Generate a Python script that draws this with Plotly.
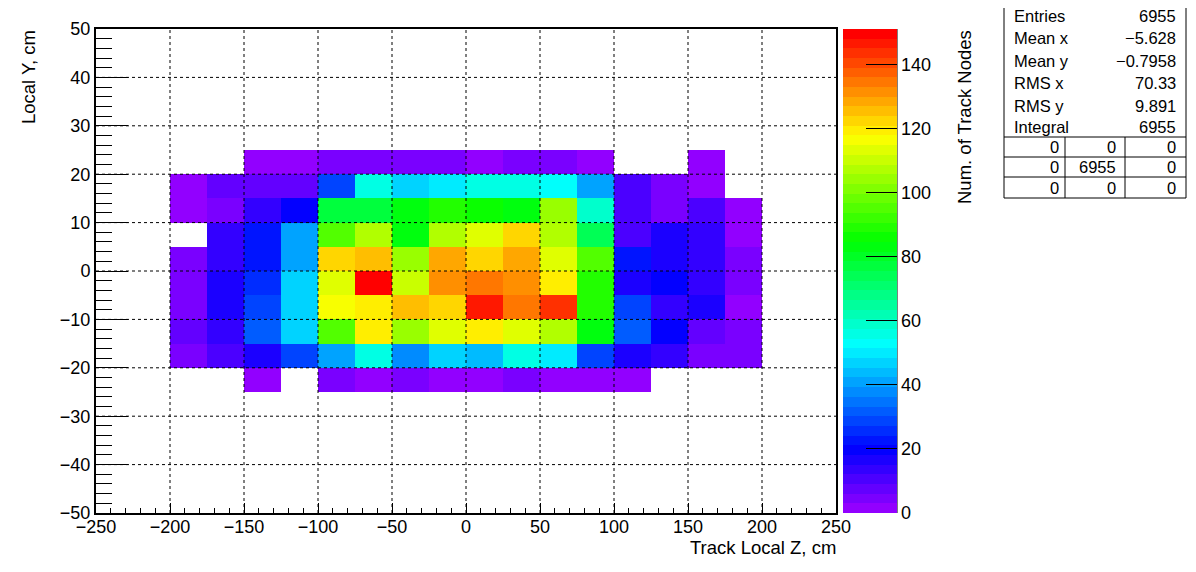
import colorsys
import plotly.graph_objects as go

# ---------------- data ----------------
x_centers = [-187.5, -162.5, -137.5, -112.5, -87.5, -62.5, -37.5, -12.5,
             12.5, 37.5, 62.5, 87.5, 112.5, 137.5, 162.5, 187.5]
y_centers = [-22.5, -17.5, -12.5, -7.5, -2.5, 2.5, 7.5, 12.5, 17.5, 22.5]

N = None
# rows from bottom (y=-25..-20) to top (y=20..25)
row_m22 = [N, N, 1, N, 4, 1, 4, 1, 1, 4, 1, 1, 1, N, N, N]
row_m17 = [4, 10, 16, 28, 41, 56, 38, 47, 44, 56, 50, 28, 16, 13, 4, 4]
row_m12 = [7, 13, 31, 47, 95, 119, 104, 113, 119, 113, 107, 83, 31, 19, 7, 4]
row_m7 = [4, 16, 28, 47, 116, 119, 125, 122, 146, 134, 143, 89, 28, 13, 16, 1]
row_m2 = [4, 16, 25, 47, 113, 151, 110, 131, 134, 131, 119, 89, 16, 19, 13, 4]
row_p2 = [4, 13, 22, 41, 122, 125, 104, 128, 122, 128, 113, 95, 22, 16, 13, 4]
row_p7 = [N, 13, 22, 41, 95, 107, 83, 107, 113, 122, 107, 74, 10, 16, 13, 1]
row_p12 = [1, 4, 13, 19, 77, 77, 83, 89, 86, 83, 104, 59, 10, 4, 10, 1]
row_p17 = [1, 7, 7, 7, 28, 56, 47, 50, 56, 56, 53, 41, 10, 4, 1, N]
row_p22 = [N, N, 1, 1, 4, 4, 4, 4, 1, 4, 4, 1, N, N, 1, N]
counts = [row_m22, row_m17, row_m12, row_m7, row_m2,
          row_p2, row_p7, row_p12, row_p17, row_p22]

z_max = 151
cbar_ticks = [0, 20, 40, 60, 80, 100, 120, 140]

stats_labels = ["Entries", "Mean x", "Mean y", "RMS x", "RMS y", "Integral"]
stats_values = ["6955", "\u22125.628", "\u22120.7958", "70.33", "9.891", "6955"]
overflow_table = [["0", "0", "0"], ["0", "6955", "0"], ["0", "0", "0"]]

# ---------------- ROOT palette 1 (50 rainbow colours) ----------------
ncol = 50
colorscale = []
for i in range(ncol):
    hue = 280.0 - (i + 1) * (280.0 / ncol)
    r, g, b = colorsys.hls_to_rgb(hue / 360.0, 0.5, 1.0)
    c = "rgb(%d,%d,%d)" % (round(r * 255), round(g * 255), round(b * 255))
    colorscale.append([i / ncol, c])
    colorscale.append([(i + 1) / ncol, c])

# page body adds an 8px offset; reference pixel positions below are page pixels
OFF = 8
W, H = 1196 - 2 * OFF, 572 - 2 * OFF
L, R, T, B = 96, 836, 29, 513  # plot frame in page pixels


def px(xp):
    return (xp - L) / (R - L)


def py(yp):
    return (B - yp) / (B - T)


FONT = "Liberation Sans, Arial, Helvetica, sans-serif"

fig = go.Figure()
fig.add_trace(go.Heatmap(
    x=x_centers, y=y_centers, z=counts,
    zmin=0, zmax=z_max, colorscale=colorscale,
    hoverongaps=False,
    colorbar=dict(
        x=px(843), xanchor="left", xpad=0, ypad=0,
        y=0.5, yanchor="middle", len=1, lenmode="fraction",
        thickness=54, thicknessmode="pixels",
        outlinewidth=0,
        tickmode="array", tickvals=cbar_ticks,
        ticks="inside", ticklen=31, tickwidth=1, tickcolor="black",
        tickfont=dict(family=FONT, size=18, color="black"),
    ),
))

shapes = []
# dotted grid drawn above the cells, like ROOT
for xv in range(-200, 201, 50):
    shapes.append(dict(type="line", xref="x", yref="paper", x0=xv, x1=xv, y0=0, y1=1,
                       line=dict(color="black", width=1, dash="dot"), layer="above"))
for yv in range(-40, 41, 10):
    shapes.append(dict(type="line", xref="paper", yref="y", x0=0, x1=1, y0=yv, y1=yv,
                       line=dict(color="black", width=1, dash="dot"), layer="above"))
# colour bar axis line
shapes.append(dict(type="line", xref="paper", yref="paper", x0=px(897), x1=px(897), y0=0, y1=1,
                   line=dict(color="black", width=1), layer="above"))

# stats box
sx0, sx1, sy0, sy1 = 1004, 1186, 3, 198
shapes.append(dict(type="rect", xref="paper", yref="paper",
                   x0=px(sx0), x1=px(sx1), y0=py(sy1), y1=py(sy0),
                   line=dict(color="black", width=1), fillcolor="white", layer="above"))
for hy in [137, 157, 177]:
    shapes.append(dict(type="line", xref="paper", yref="paper",
                       x0=px(sx0), x1=px(sx1), y0=py(hy), y1=py(hy),
                       line=dict(color="black", width=1), layer="above"))
for vx in [1065, 1125]:
    shapes.append(dict(type="line", xref="paper", yref="paper",
                       x0=px(vx), x1=px(vx), y0=py(137), y1=py(sy1),
                       line=dict(color="black", width=1), layer="above"))

annotations = []
row_y = [16.5, 38.5, 61, 83, 105.5, 127.5]
for lab, val, yy in zip(stats_labels, stats_values, row_y):
    annotations.append(dict(text=lab, xref="paper", yref="paper", x=px(1012), y=py(yy),
                            xanchor="left", yanchor="middle", showarrow=False,
                            font=dict(family=FONT, size=16.5, color="black")))
    annotations.append(dict(text=val, xref="paper", yref="paper", x=px(1178), y=py(yy),
                            xanchor="right", yanchor="middle", showarrow=False,
                            font=dict(family=FONT, size=16.5, color="black")))
tab_y = [147, 167, 187.5]
col_r = [1061, 1118, 1178]
for row, yy in zip(overflow_table, tab_y):
    for txt, xr in zip(row, col_r):
        annotations.append(dict(text=txt, xref="paper", yref="paper", x=px(xr), y=py(yy),
                                xanchor="right", yanchor="middle", showarrow=False,
                                font=dict(family=FONT, size=16.5, color="black")))

# axis titles (ROOT style placement)
annotations.append(dict(text="Track Local Z, cm", xref="paper", yref="paper",
                        x=px(838), y=py(547), xanchor="right", yanchor="middle",
                        showarrow=False, font=dict(family=FONT, size=18.5, color="black")))
annotations.append(dict(text="Local Y, cm", xref="paper", yref="paper",
                        x=px(28), y=py(28), xanchor="center", yanchor="top", textangle=-90,
                        showarrow=False, font=dict(family=FONT, size=18.5, color="black")))
annotations.append(dict(text="Num. of Track Nodes", xref="paper", yref="paper",
                        x=px(964), y=py(28), xanchor="center", yanchor="top", textangle=-90,
                        showarrow=False, font=dict(family=FONT, size=18.5, color="black")))

fig.update_layout(
    width=W, height=H, autosize=False,
    margin=dict(l=L - OFF, r=(W + OFF) - R, t=T - OFF, b=(H + OFF) - B, pad=0),
    paper_bgcolor="white", plot_bgcolor="white",
    shapes=shapes, annotations=annotations,
    xaxis=dict(range=[-250, 250], dtick=50, tick0=0, showgrid=False, zeroline=False,
               showline=True, linecolor="black", linewidth=2, mirror=True,
               ticks="inside", ticklen=10, tickwidth=1, tickcolor="black",
               ticklabelstandoff=-4,
               minor=dict(dtick=10, ticks="inside", ticklen=5, tickwidth=1,
                          tickcolor="black", showgrid=False),
               tickfont=dict(family=FONT, size=18, color="black")),
    yaxis=dict(range=[-50, 50], dtick=10, tick0=0, showgrid=False, zeroline=False,
               showline=True, linecolor="black", linewidth=2, mirror=True,
               ticks="inside", ticklen=32, tickwidth=1, tickcolor="black",
               minor=dict(dtick=2, ticks="inside", ticklen=16, tickwidth=1,
                          tickcolor="black", showgrid=False),
               tickfont=dict(family=FONT, size=18, color="black")),
)

fig.write_html("out.html")
